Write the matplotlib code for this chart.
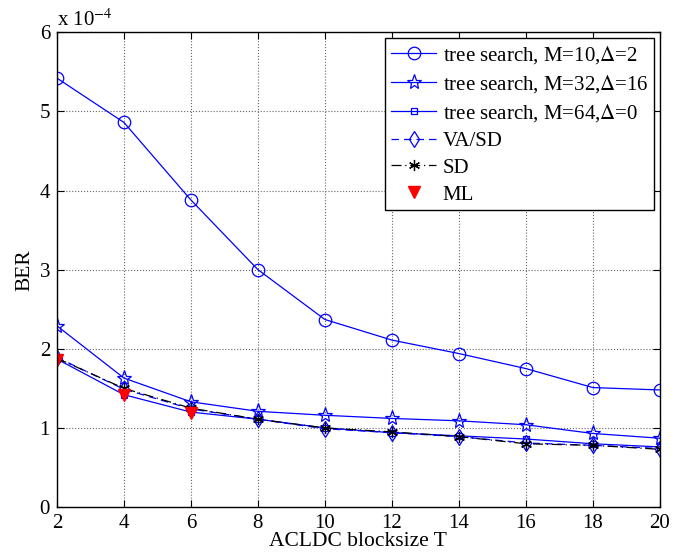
import matplotlib
matplotlib.use("Agg")
import matplotlib.pyplot as plt
import numpy as np

plt.rcParams['font.family'] = ['Liberation Serif', 'DejaVu Serif']
plt.rcParams['mathtext.fontset'] = 'stix'

T = [2, 4, 6, 8, 10, 12, 14, 16, 18, 20]
# BER values in units of 1e-4
ber_m10 = [5.42, 4.86, 3.88, 3.00, 2.37, 2.11, 1.94, 1.75, 1.51, 1.48]
ber_m32 = [2.29, 1.63, 1.33, 1.21, 1.16, 1.12, 1.09, 1.04, 0.93, 0.87]
ber_m64 = [1.87, 1.42, 1.20, 1.11, 1.00, 0.94, 0.90, 0.86, 0.80, 0.76]
ber_vasd = [1.89, 1.49, 1.24, 1.11, 0.99, 0.94, 0.89, 0.81, 0.78, 0.74]
ber_sd = [1.88, 1.50, 1.25, 1.11, 1.00, 0.95, 0.89, 0.80, 0.78, 0.73]
T_ml = [2, 4, 6]
ber_ml = [1.86, 1.42, 1.19]

fig = plt.figure(figsize=(6.99, 5.56), dpi=100)
ax = fig.add_axes([0.0815, 0.088, 0.8625, 0.854])

ax.plot(T, ber_m10, color='blue', lw=0.9, marker='o', ms=9, mfc='none', mew=0.9,
        label=r'tree search, M=10,$\Delta$=2')
ax.plot(T, ber_m32, color='blue', lw=0.9, marker='*', ms=11, mfc='none', mew=0.9,
        label=r'tree search, M=32,$\Delta$=16')
ax.plot(T, ber_m64, color='blue', lw=0.9, marker='s', ms=5, mfc='none', mew=0.9,
        label=r'tree search, M=64,$\Delta$=0')
ax.plot(T, ber_vasd, color='blue', lw=0.9, ls=(0, (6, 4)), marker='d', ms=8, mfc='none', mew=0.9,
        label='VA/SD')
ax.plot(T, ber_sd, color='black', lw=0.9, ls=(0, (8, 3, 1, 3)), marker=(6, 2, 0), ms=8, mew=0.9,
        label='SD')
ax.plot(T_ml, ber_ml, color='red', ls='none', marker='v', ms=8,
        label='ML')

ax.set_xlim(2, 20)
ax.set_ylim(0, 6)
ax.set_xticks(range(2, 21, 2))
ax.set_yticks(range(0, 7))
ax.grid(True, ls=':', color='#666666', lw=0.8)
ax.tick_params(direction='in', top=True, right=True, labelsize=15, length=5, pad=5)
for s in ax.spines.values():
    s.set_linewidth(1.0)

ax.set_xlabel('ACLDC blocksize T', fontsize=15.5, labelpad=-1)
ax.set_ylabel('BER', fontsize=15.5, labelpad=4)
ax.text(0.0, 1.003, r'x 10$^{-4}$', transform=ax.transAxes, fontsize=15,
        va='bottom', ha='left')

leg = ax.legend(loc='upper right', fontsize=15, fancybox=False, framealpha=1,
                edgecolor='black', borderaxespad=0.3, handlelength=2.2,
                labelspacing=0.35, borderpad=0.25, handletextpad=0.3)
leg.get_frame().set_linewidth(1.0)

fig.savefig('out.png', dpi=100)
